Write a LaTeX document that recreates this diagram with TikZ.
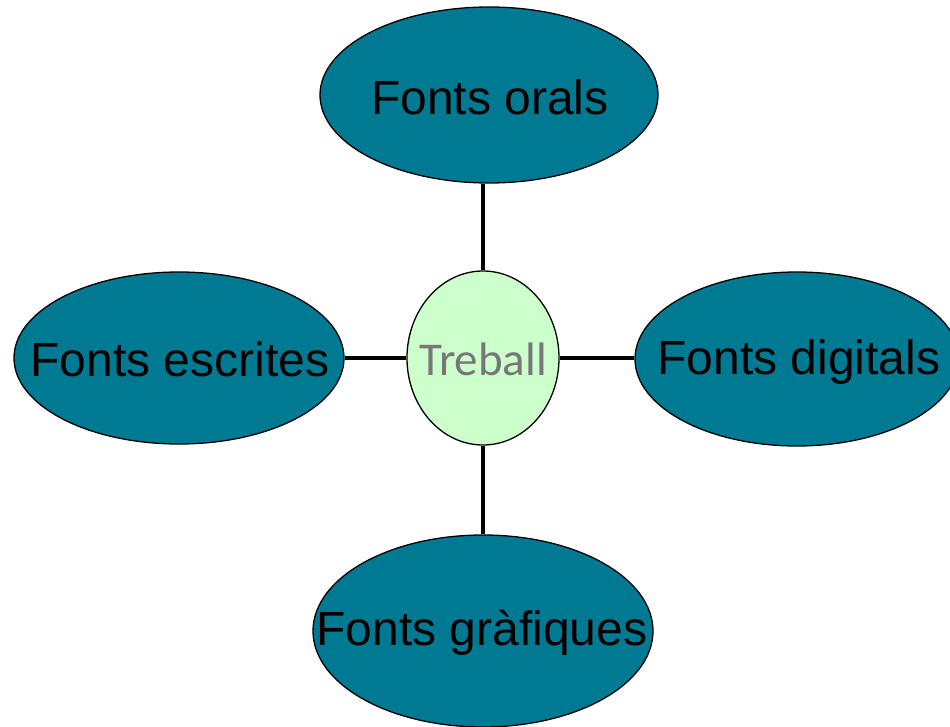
\documentclass[tikz,border=0pt]{standalone}
\usepackage{fontspec}
\setmainfont{Liberation Sans}
\newfontfamily\carlito{Carlito}
\usetikzlibrary{shapes.geometric}
\definecolor{tealfill}{HTML}{007A93}
\definecolor{greenfill}{HTML}{CCFFCC}
\definecolor{graytext}{HTML}{777777}
\begin{document}
\begin{tikzpicture}[x=1pt,y=-1pt,
  outer/.style={ellipse,draw=black,line width=1.3pt,fill=tealfill,inner sep=0pt},
  outertext/.style={font=\fontsize{48}{50}\selectfont,inner sep=0pt},
  hub/.style={ellipse,draw=black,line width=1.3pt,fill=greenfill,inner sep=0pt},
  hubtext/.style={text=graytext,font=\carlito\fontsize{47}{50}\selectfont,inner sep=0pt},
  link/.style={line width=4.2pt,black}]
\useasboundingbox (0,0) rectangle (950,727);
\begin{scope}
\clip (0,0) rectangle (950,727);
\node[outer,minimum width=338pt,minimum height=176pt,
  label={[outertext,xshift=1pt,yshift=-2pt]center:Fonts orals}] (orals) at (489,95) {};
\node[outer,minimum width=330pt,minimum height=172pt,
  label={[outertext,xshift=1pt,yshift=-1pt]center:Fonts escrites}] (escrites) at (179,358) {};
\node[outer,minimum width=324pt,minimum height=174pt,
  label={[outertext,xshift=2pt,yshift=-3pt]center:Fonts digitals}] (digitals) at (797,359) {};
\node[outer,minimum width=340pt,minimum height=192pt,
  label={[outertext,xshift=-1pt,yshift=-2pt]center:Fonts gràfiques}] (grafiques) at (483,631) {};
\node[hub,minimum width=152pt,minimum height=174pt,
  label={[hubtext,yshift=-1pt]center:Treball}] (treball) at (483,358) {};
\draw[link] (treball.north) -- (treball.north |- orals.south);
\draw[link] (treball.south) -- (treball.south |- grafiques.north);
\draw[link] (treball.west) -- (treball.west -| escrites.east);
\draw[link] (treball.east) -- (treball.east -| digitals.west);
\end{scope}
\end{tikzpicture}
\end{document}
